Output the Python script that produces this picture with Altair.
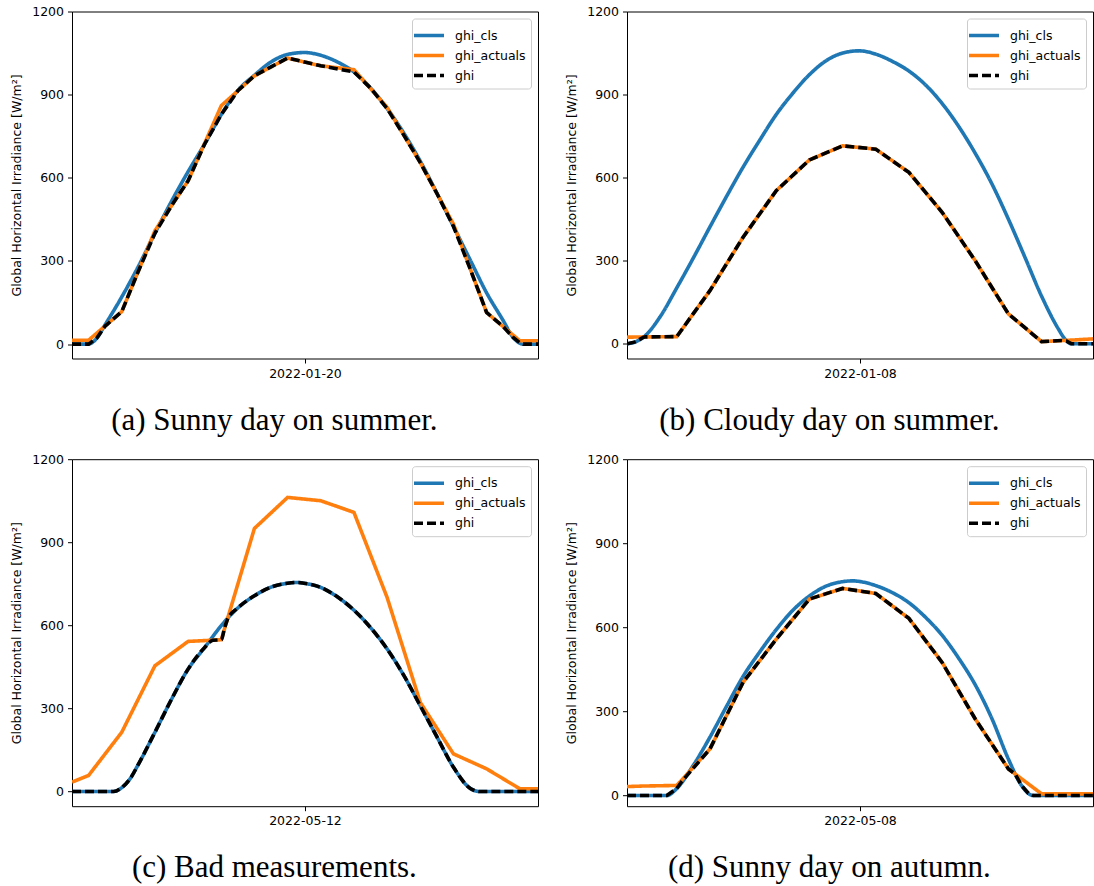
import altair as alt
import pandas as pd

SERIES = ["ghi_cls", "ghi_actuals", "ghi"]
COLORS = ["#1f77b4", "#ff7f0e", "#000000"]
X_DOMAIN = [4.5, 18.55]
X_TICK = 11.525
Y_TICKS = [0, 300, 600, 900, 1200]
Y_TITLE = "Global Horizontal Irradiance [W/m²]"

DATES = ["2022-01-20", "2022-01-08", "2022-05-12", "2022-05-08"]
CAPTIONS = ["(a) Sunny day on summer.", "(b) Cloudy day on summer.",
            "(c) Bad measurements.", "(d) Sunny day on autumn."]
Y_MINS = [-52, -53, -53, -38]

HOURS = [4.5, 5, 6, 7, 8, 9, 10, 11, 12, 13, 14, 15, 16, 17, 18, 18.55]

# ---- (a) ----
cls_a_x = [4.5, 5.0, 5.25, 5.5, 6.0, 6.5, 7.0, 7.5, 8.0, 8.5, 9.0, 9.5, 10.0, 10.5, 11.0, 11.5,
           12.0, 12.5, 13.0, 13.5, 14.0, 14.5, 15.0, 15.5, 16.0, 16.5, 17.0, 17.5, 17.8, 18.1, 18.55]
cls_a_y = [0, 0, 22, 70, 170, 280, 400, 515, 622, 722, 828, 915, 970, 1018, 1045, 1052,
           1042, 1018, 982, 924, 850, 762, 660, 545, 425, 305, 185, 85, 24, 0, 0]
act_a_y = [14, 14, 117, 409, 589, 860, 968, 1032, 1004, 990, 854, 655, 433, 114, 12, 12]
ghi_a_x = [4.5, 5.0, 5.25, 5.5, 6.0, 6.5, 7.0, 7.5, 8.0, 8.5, 9.0, 9.5, 10.0, 10.5, 11.0, 12.0,
           13.0, 13.5, 14.0, 14.5, 15.0, 15.5, 16.0, 16.5, 17.0, 17.5, 17.8, 18.0, 18.1, 18.55]
ghi_a_y = [0, 0, 22, 65, 117, 263, 400, 499, 589, 722, 828, 914, 968, 1000, 1032, 1004,
           982, 924, 850, 755, 655, 544, 425, 273, 114, 63, 24, 5, 0, 0]

# ---- (b) ----
cls_b_x = [4.5, 4.75, 5.0, 5.5, 6.0, 6.5, 7.0, 7.5, 8.0, 8.5, 9.0, 9.5, 10.0, 10.5, 11.0, 11.5,
           12.0, 12.5, 13.0, 13.5, 14.0, 14.5, 15.0, 15.5, 16.0, 16.5, 17.0, 17.5, 17.7, 17.9, 18.55]
cls_b_y = [0, 7, 24, 98, 202, 310, 422, 532, 638, 735, 828, 905, 972, 1022, 1050, 1058,
           1046, 1020, 985, 935, 868, 785, 688, 578, 450, 312, 172, 55, 18, 0, 0]
act_b_y = [24, 25, 26, 192, 385, 553, 664, 715, 703, 619, 475, 300, 108, 8, 14, 18]
ghi_b_x = [4.5, 4.75, 5.0, 5.05, 6.0, 7, 8, 9, 10, 11, 12, 13, 14, 15, 16, 17, 17.6, 17.75, 17.9, 18.55]
ghi_b_y = [0, 7, 24, 25, 26, 192, 385, 553, 664, 715, 703, 619, 475, 300, 108, 8, 12, 10, 0, 0]

# ---- (c) ----
cls_c_x = [4.5, 5.75, 6.0, 6.25, 6.5, 7.0, 7.5, 8.0, 8.5, 9.0, 9.5, 10.0, 10.5, 11.0, 11.3, 11.5,
           12.0, 12.5, 13.0, 13.5, 14.0, 14.5, 15.0, 15.5, 16.0, 16.5, 16.8, 18.55]
cls_c_y = [0, 0, 14, 46, 98, 214, 333, 442, 520, 599, 663, 707, 738, 752, 755, 752,
           737, 703, 655, 592, 515, 420, 310, 198, 88, 12, 0, 0]
act_c_y = [34, 58, 214, 454, 542, 548, 950, 1062, 1050, 1008, 701, 322, 136, 82, 10, 10]
ghi_c_x = [4.5, 5.75, 6.0, 6.25, 6.5, 7.0, 7.5, 8.0, 8.5, 8.75, 9.0, 9.1, 9.2, 9.5, 10.0, 10.5,
           11.0, 11.3, 11.5, 12.0, 12.5, 13.0, 13.5, 14.0, 14.5, 15.0, 15.5, 16.0, 16.5, 16.8, 18.55]
ghi_c_y = [0, 0, 14, 46, 98, 214, 333, 442, 520, 546, 548, 590, 625, 663, 707, 738,
           752, 755, 752, 737, 703, 655, 592, 515, 420, 310, 198, 88, 12, 0, 0]

# ---- (d) ----
cls_d_x = [4.5, 5.7, 6.0, 6.5, 7.0, 7.5, 8.0, 8.5, 9.0, 9.5, 10.0, 10.5, 11.0, 11.3, 11.5,
           12.0, 12.5, 13.0, 13.5, 14.0, 14.5, 15.0, 15.5, 16.0, 16.4, 16.75, 18.55]
cls_d_y = [0, 0, 25, 108, 208, 318, 425, 512, 592, 661, 712, 747, 763, 766, 764,
           749, 724, 688, 636, 572, 490, 395, 275, 130, 35, 0, 0]
act_d_y = [32, 34, 36, 166, 404, 558, 701, 739, 721, 632, 475, 273, 95, 6, 6, 6]
ghi_d_x = [4.5, 5.7, 6.0, 6.15, 7, 8, 9, 10, 11, 12, 13, 14, 15, 16, 16.2, 16.4, 16.6, 16.75, 18.55]
ghi_d_y = [0, 0, 25, 50, 166, 404, 558, 701, 739, 721, 632, 475, 273, 95, 77, 35, 8, 0, 0]


def frame(xs, ys, name):
    return pd.DataFrame({"x": xs, "y": ys, "series": name})


def panel(i, cls_x, cls_y, act_y, ghi_x, ghi_y, ghi_interp):
    x = alt.X("x:Q", scale=alt.Scale(domain=X_DOMAIN, nice=False, zero=False),
              axis=alt.Axis(values=[X_TICK], labelExpr=f"'{DATES[i]}'", title=None,
                            labelFlush=False))
    y = alt.Y("y:Q", scale=alt.Scale(domain=[Y_MINS[i], 1200], nice=False, zero=False),
              axis=alt.Axis(values=Y_TICKS, title=Y_TITLE, labelFlush=False, format="d"))
    leg = alt.Legend(title=None, orient="top-right")
    color = alt.Color("series:N", scale=alt.Scale(domain=SERIES, range=COLORS), legend=leg)
    dash = alt.StrokeDash("series:N", scale=alt.Scale(domain=SERIES, range=[[1, 0], [1, 0], [9, 4]]),
                          legend=leg)
    width = alt.StrokeWidth("series:N", scale=alt.Scale(domain=SERIES, range=[3.6, 3.6, 2.3]),
                            legend=leg)

    def line(df, interp):
        return alt.Chart(df).mark_line(interpolate=interp, clip=True).encode(
            x=x, y=y, color=color, strokeDash=dash, strokeWidth=width)

    return alt.layer(
        line(frame(cls_x, cls_y, "ghi_cls"), "monotone"),
        line(frame(HOURS, act_y, "ghi_actuals"), "linear"),
        line(frame(ghi_x, ghi_y, "ghi"), ghi_interp),
    ).properties(
        width=466, height=347,
        title=alt.TitleParams(text=CAPTIONS[i], orient="bottom", anchor="middle", frame="bounds",
                              font="Liberation Serif", fontSize=31, fontWeight="normal",
                              color="black", baseline="alphabetic", offset=50),
    )


pa = panel(0, cls_a_x, cls_a_y, act_a_y, ghi_a_x, ghi_a_y, "linear")
pb = panel(1, cls_b_x, cls_b_y, act_b_y, ghi_b_x, ghi_b_y, "linear")
pc = panel(2, cls_c_x, cls_c_y, act_c_y, ghi_c_x, ghi_c_y, "monotone")
pd_ = panel(3, cls_d_x, cls_d_y, act_d_y, ghi_d_x, ghi_d_y, "linear")

chart = alt.concat(pa, pb, pc, pd_, columns=2, spacing={"row": 100.7, "column": 89},
                   bounds="flush").resolve_scale(
    color="independent", strokeDash="independent", strokeWidth="independent"
).resolve_legend(
    color="independent", strokeDash="independent", strokeWidth="independent"
).properties(
    padding={"left": 10, "top": 4.5, "right": 0, "bottom": 0}
).configure_view(
    stroke="black", strokeWidth=1
).configure_axis(
    domain=False, grid=False, tickColor="black", tickSize=4.5, tickWidth=1,
    labelFont="DejaVu Sans", labelFontSize=12.5, labelColor="black", labelPadding=4,
    titleFont="DejaVu Sans", titleFontSize=12.5, titleFontWeight="normal", titleColor="black",
    titlePadding=8,
).configure_legend(
    symbolType="M-1.5,0H1.5", symbolSize=400, labelFont="DejaVu Sans", labelFontSize=12.5,
    labelColor="black", rowPadding=0, padding=5, offset=7, strokeColor="#cccccc",
    fillColor="rgba(255,255,255,0.8)", cornerRadius=3, labelOffset=14,
)

chart.save("out.html", embed_options={"renderer": "svg", "actions": False})
